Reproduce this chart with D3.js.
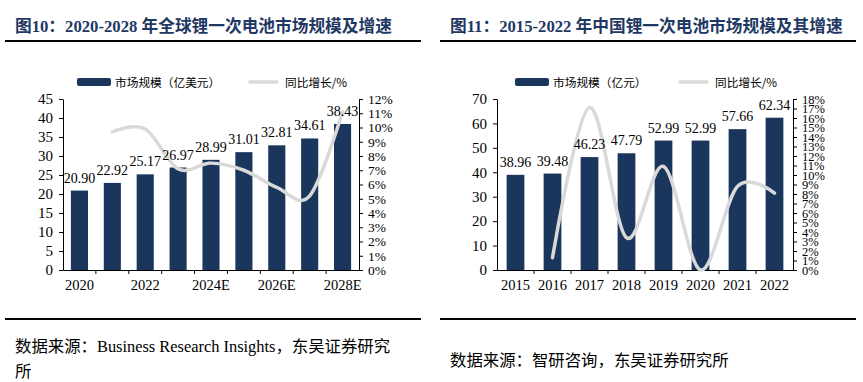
<!DOCTYPE html>
<html><head><meta charset="utf-8">
<script src="https://cdn.jsdelivr.net/npm/d3@7"></script>
<style>
body{margin:0;background:#fff;}
svg{display:block;}
</style></head>
<body>
<svg id="c" width="863" height="382"></svg>
<script>
// ---------- Data ----------
const leftYears = ["2020","2021","2022","2023","2024E","2025E","2026E","2027E","2028E"];
const leftMarket = [20.90,22.92,25.17,26.97,28.99,31.01,32.81,34.61,38.43];
const leftGrowth = [null,9.7,9.9,7.1,7.5,7.0,5.8,5.2,11.1];
const leftYTicks = [0,5,10,15,20,25,30,35,40,45];
const leftPctTicks = [0,1,2,3,4,5,6,7,8,9,10,11,12];
const leftXLabels = ["2020","2022","2024E","2026E","2028E"];

const rightYears = ["2015","2016","2017","2018","2019","2020","2021","2022"];
const rightMarket = [38.96,39.48,46.23,47.79,52.99,52.99,57.66,62.34];
const rightGrowth = [null,1.3,17.1,3.4,10.9,0.0,8.8,8.1];
const rightYTicks = [0,10,20,30,40,50,60,70];
const rightPctTicks = [0,1,2,3,4,5,6,7,8,9,10,11,12,13,14,15,16,17,18];

const titles = ["图10：2020-2028 年全球锂一次电池市场规模及增速","图11：2015-2022 年中国锂一次电池市场规模及其增速"];
const legendBar = ["市场规模（亿美元）","市场规模（亿元）"];
const legendLine = "同比增长/%";

const BAR = "#1b365d", LINE = "#d9d9d9", NAVY = "#1f3864";
const SERIF = "'Liberation Serif','Times New Roman',serif";
const CJK = "'Noto Sans CJK SC','Noto Sans',sans-serif";

const svg = d3.select("#c");

function panel(o){
  const g = svg.append("g");
  // title
  g.append("text").attr("x",o.titleX).attr("y",32)
    .attr("font-family",SERIF+","+CJK).attr("font-weight","bold")
    .attr("font-size",16.7).attr("fill",NAVY).text(o.title);
  // rules
  g.append("line").attr("x1",o.ruleX1).attr("x2",o.ruleX2).attr("y1",41).attr("y2",41)
    .attr("stroke","#000").attr("stroke-width",2);
  g.append("line").attr("x1",o.ruleX1).attr("x2",o.ruleX2).attr("y1",319).attr("y2",319)
    .attr("stroke","#000").attr("stroke-width",2);

  const x = d3.scaleBand().domain(o.years).range([o.x0,o.x1]).paddingInner(o.pad).paddingOuter(o.pad/2);
  const y = d3.scaleLinear().domain([0,o.yMax]).range([270,99]);
  const yp = d3.scaleLinear().domain([0,o.pMax]).range([270,99]);

  // bars
  g.selectAll(".bar").data(o.years).enter().append("rect")
    .attr("x",d=>x(d)).attr("width",x.bandwidth())
    .attr("y",(d,i)=>y(o.market[i])).attr("height",(d,i)=>270-y(o.market[i]))
    .attr("fill",BAR);

  // left axis
  const ay = g.append("g").attr("transform",`translate(${o.x0},0)`)
    .call(d3.axisLeft(y).tickValues(o.yTicks).tickSize(4).tickSizeOuter(0).tickFormat(d3.format("d")));
  ay.select(".domain").attr("stroke","#000");
  ay.selectAll("text").attr("font-family",SERIF).attr("font-size",15).attr("fill","#000").attr("dx",-3);
  // right axis
  const ap = g.append("g").attr("transform",`translate(${o.x1},0)`)
    .call(d3.axisRight(yp).tickValues(o.pTicks).tickSize(4).tickSizeOuter(0).tickFormat(d=>d+"%"));
  ap.select(".domain").attr("stroke","#000");
  ap.selectAll("text").attr("font-family",SERIF).attr("font-size",o.pFont).attr("fill","#000").attr("dx",2);
  // bottom axis
  const ax = g.append("g").attr("transform","translate(0,270)")
    .call(d3.axisBottom(x).tickSize(0).tickSizeOuter(0).tickFormat(d=>o.xLabels.includes(d)?d:""));
  ax.select(".domain").attr("stroke","#000");
  ax.selectAll("text").attr("font-family",SERIF).attr("font-size",14.5).attr("fill","#000").attr("dy","1.15em");
  // category tick marks
  const step = x.step();
  g.selectAll(".ct").data(d3.range(1,o.years.length)).enter().append("line")
    .attr("x1",i=>o.x0+i*step).attr("x2",i=>o.x0+i*step).attr("y1",270).attr("y2",274)
    .attr("stroke","#000");

  // growth line
  const pts = o.years.map((d,i)=>[x(d)+x.bandwidth()/2,o.growth[i]]).filter(p=>p[1]!==null);
  g.append("path").datum(pts)
    .attr("d",d3.line().x(p=>p[0]).y(p=>yp(p[1])).curve(d3.curveCardinal.tension(0)))
    .attr("fill","none").attr("stroke",LINE).attr("stroke-width",3.5).attr("stroke-linecap","round");

  // value labels
  g.selectAll(".vl").data(o.years).enter().append("text")
    .attr("x",d=>x(d)+x.bandwidth()/2).attr("y",(d,i)=>y(o.market[i])-8)
    .attr("text-anchor","middle").attr("font-family",SERIF).attr("font-size",14).attr("fill","#000")
    .text((d,i)=>o.market[i].toFixed(2));

  // legend
  g.append("rect").attr("x",o.lgX).attr("y",78).attr("width",34).attr("height",8).attr("rx",2).attr("fill",BAR);
  g.append("text").attr("x",o.lgX+38).attr("y",86.5).attr("font-family",CJK).attr("font-size",11.7)
    .attr("fill","#000").text(o.legendBar);
  g.append("line").attr("x1",o.lgLX).attr("x2",o.lgLX+27).attr("y1",82).attr("y2",82)
    .attr("stroke",LINE).attr("stroke-width",3.5).attr("stroke-linecap","round");
  g.append("text").attr("x",o.lgLX+35).attr("y",86.5).attr("font-family",CJK).attr("font-size",11.7)
    .attr("fill","#000").text(legendLine);
}

panel({title:titles[0],titleX:15,ruleX1:5,ruleX2:421,years:leftYears,market:leftMarket,growth:leftGrowth,
  x0:63,x1:359,pad:0.48,yMax:45,pMax:12,yTicks:leftYTicks,pTicks:leftPctTicks,pFont:13.5,xLabels:leftXLabels,
  legendBar:legendBar[0],lgX:77,lgLX:250});
panel({title:titles[1],titleX:450,ruleX1:440,ruleX2:856,years:rightYears,market:rightMarket,growth:rightGrowth,
  x0:497,x1:793,pad:0.52,yMax:70,pMax:18,yTicks:rightYTicks,pTicks:rightPctTicks,pFont:12.5,xLabels:rightYears,
  legendBar:legendBar[1],lgX:515,lgLX:680});

// sources
svg.append("text").attr("x",15).attr("y",352).attr("font-family",SERIF+","+CJK).attr("font-size",16.4)
  .attr("fill","#000").text("数据来源：Business Research Insights，东吴证券研究");
svg.append("text").attr("x",15).attr("y",377).attr("font-family",SERIF+","+CJK).attr("font-size",16.4)
  .attr("fill","#000").text("所");
svg.append("text").attr("x",450).attr("y",366).attr("font-family",CJK).attr("font-size",16.4)
  .attr("fill","#000").text("数据来源：智研咨询，东吴证券研究所");
</script>
</body></html>
